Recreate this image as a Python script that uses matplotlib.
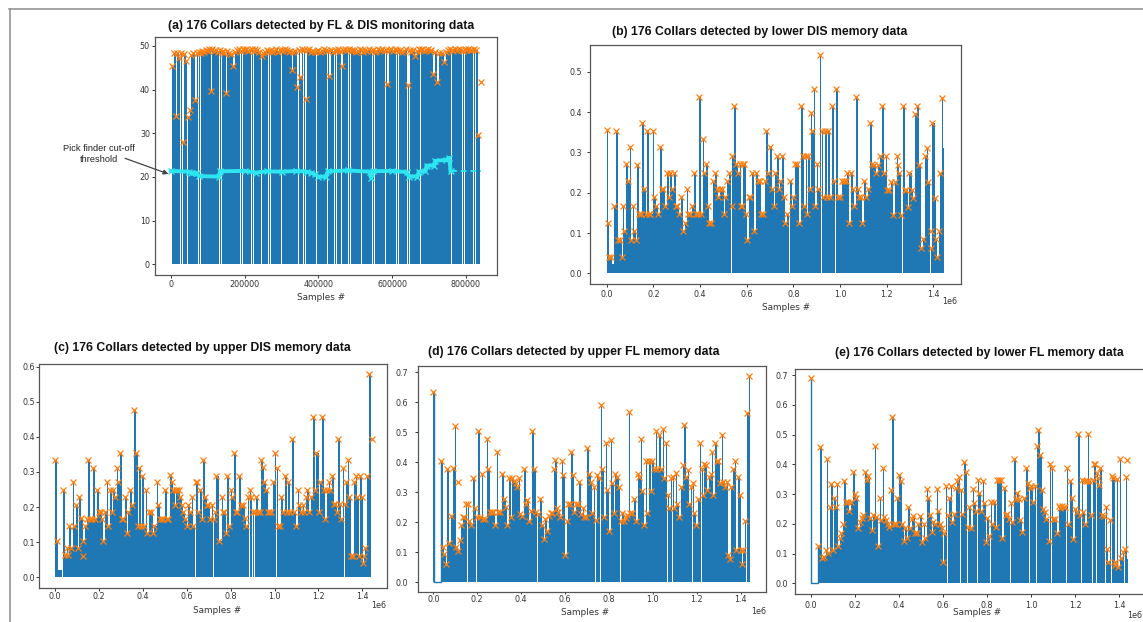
import numpy as np
import matplotlib
matplotlib.use("Agg")
import matplotlib.pyplot as plt
from matplotlib.lines import Line2D

W, H = 1143, 622
BLUE = "#1f77b4"
ORANGE = "#ff7f0e"
CYAN = "#2ee6f0"

# ---------------- data ----------------
# (a) FL & DIS monitoring data : peak positions (thousands of samples) and heights
a_peak_x = [3.6, 8, 13.5, 17, 22.6, 26, 31.6, 36, 40.6, 45.2, 51.5, 55, 60, 65, 70, 75, 80, 85, 90, 95,
            100, 104, 108.4, 112, 117, 122, 127, 132, 137, 142, 145, 149, 153, 158, 163, 169, 174, 179, 184, 189,
            194, 199, 204, 209, 214, 219, 224, 229, 234, 239, 245.7, 250, 255, 260, 265, 270, 275, 280, 285, 290,
            295, 300, 305, 310, 315, 320, 324, 328, 332, 337, 341.5, 346, 350.5, 355, 360, 365, 370, 375, 380, 385,
            390, 395, 400, 405, 410, 415, 420, 425, 429, 434, 439, 444, 449, 454, 458, 462.5, 467, 472, 477, 482,
            487, 492, 497, 502, 507, 512, 517, 522, 527, 532, 537, 542, 547, 552, 557, 562, 567, 572, 577, 582,
            587, 592, 597, 602, 607, 612, 617, 622, 627, 632, 637, 642, 647, 652, 657, 662, 667, 672, 677, 682,
            687, 692, 697, 702, 706, 711, 716, 722.7, 728, 735, 741.6, 746, 751, 756, 761, 766, 771, 776, 781, 786,
            791, 796, 801, 806, 811, 816, 821, 826, 833, 840]
a_peak_y = [45.5, 48.3, 34.0, 48.3, 47.2, 48.3, 28.1, 48.2, 46.6, 33.8, 35.3, 48.0, 48.3, 37.6, 48.4, 48.6, 48.5, 48.8, 48.7, 49.0,
            48.8, 49.3, 39.8, 49.2, 48.9, 49.1, 48.7, 49.0, 48.6, 48.9, 48.4, 39.3, 48.8, 48.5, 48.2, 45.4, 48.6, 49.1, 49.2, 48.9,
            49.3, 49.0, 49.2, 48.8, 49.1, 49.3, 48.9, 49.2, 49.0, 48.6, 47.6, 48.3, 48.7, 49.0, 48.8, 49.1, 48.6, 48.9, 49.2, 48.7,
            49.0, 48.8, 49.1, 49.3, 49.0, 48.7, 48.9, 44.4, 48.6, 48.9, 40.5, 49.1, 42.8, 49.2, 49.0, 37.9, 49.1, 49.3, 48.7, 48.9,
            48.6, 48.8, 49.0, 48.7, 48.9, 49.2, 49.0, 48.8, 43.1, 49.1, 48.7, 49.0, 48.8, 49.2, 48.9, 45.5, 49.1, 49.3, 49.0, 49.2,
            48.8, 49.1, 49.0, 48.6, 48.9, 49.2, 49.0, 48.7, 49.1, 48.9, 49.2, 48.8, 49.0, 48.6, 48.9, 49.2, 49.0, 49.3, 48.8, 49.1,
            41.3, 49.0, 49.2, 48.9, 49.3, 49.0, 48.8, 49.1, 48.6, 48.9, 49.2, 41.1, 49.0, 48.7, 49.1, 47.6, 48.9, 49.2, 49.0, 49.3,
            48.9, 49.1, 49.2, 48.8, 49.0, 43.6, 48.6, 41.8, 48.4, 48.3, 46.4, 48.7, 49.0, 49.2, 49.1, 48.9, 49.2, 49.0, 49.3, 49.1,
            48.9, 49.2, 49.0, 49.3, 49.1, 49.0, 49.2, 49.1, 29.6, 41.7]
a_end_x = [842]
a_end_y = [41.7]
# pick-finder cut-off threshold (thousands of samples)
a_thr_x = [0, 50, 55, 70, 75, 130, 133, 200, 230, 260, 300, 340, 370, 380, 390, 400, 420, 425, 480, 540,
           543, 548, 600, 640, 645, 668, 672, 690, 693, 713, 716, 745, 755, 758]
a_thr_y = [21.4, 21.2, 20.8, 20.9, 20.2, 20.1, 21.3, 21.4, 21.0, 21.3, 21.2, 21.4, 21.2, 21.0, 20.6, 20.1, 20.0, 21.3, 21.5, 21.2,
           19.8, 21.3, 21.4, 21.1, 20.1, 20.1, 21.2, 21.3, 22.6, 22.6, 23.7, 23.9, 24.4, 21.4]
a_thr_tail_x = [758, 840]
a_thr_tail_y = [21.4, 21.4]

# (b) lower DIS memory data (x in 1e6 samples)
b_peak_x = [0.000, 0.004, 0.011, 0.019, 0.033, 0.041, 0.050, 0.059, 0.064, 0.069, 0.076, 0.081, 0.090, 0.099, 0.104, 0.111,
            0.117, 0.124, 0.130, 0.139, 0.146, 0.153, 0.160, 0.167, 0.173, 0.181, 0.187, 0.197, 0.204, 0.213, 0.219, 0.229,
            0.236, 0.243, 0.250, 0.257, 0.266, 0.271, 0.280, 0.287, 0.296, 0.303, 0.311, 0.319, 0.326, 0.334, 0.343, 0.350,
            0.359, 0.364, 0.373, 0.381, 0.390, 0.397, 0.404, 0.411, 0.417, 0.424, 0.433, 0.440, 0.447, 0.457, 0.464, 0.471,
            0.479, 0.486, 0.494, 0.501, 0.509, 0.516, 0.524, 0.535, 0.539, 0.547, 0.556, 0.561, 0.570, 0.575, 0.579, 0.584,
            0.590, 0.596, 0.601, 0.610, 0.616, 0.624, 0.631, 0.639, 0.647, 0.656, 0.661, 0.670, 0.679, 0.684, 0.693, 0.701,
            0.710, 0.716, 0.721, 0.729, 0.737, 0.743, 0.753, 0.759, 0.766, 0.774, 0.784, 0.793, 0.800, 0.807, 0.816, 0.824,
            0.833, 0.840, 0.847, 0.854, 0.859, 0.864, 0.871, 0.876, 0.881, 0.890, 0.894, 0.900, 0.907, 0.913, 0.921, 0.929,
            0.936, 0.943, 0.950, 0.957, 0.964, 0.974, 0.981, 0.990, 0.999, 1.010, 1.017, 1.024, 1.030, 1.037, 1.047, 1.054,
            1.060, 1.067, 1.076, 1.083, 1.090, 1.096, 1.103, 1.110, 1.119, 1.128, 1.136, 1.145, 1.153, 1.162, 1.171, 1.180,
            1.189, 1.196, 1.201, 1.210, 1.219, 1.228, 1.236, 1.243, 1.249, 1.254, 1.263, 1.268, 1.277, 1.284, 1.291, 1.296,
            1.307, 1.314, 1.323, 1.330, 1.339, 1.349, 1.354, 1.363, 1.372, 1.379, 1.388, 1.392, 1.395, 1.406, 1.411, 1.416,
            1.425, 1.429, 1.437]
b_peak_y = [0.356, 0.126, 0.041, 0.041, 0.168, 0.354, 0.083, 0.083, 0.041, 0.168, 0.105, 0.272, 0.229, 0.313, 0.083, 0.168,
            0.105, 0.083, 0.269, 0.147, 0.147, 0.374, 0.209, 0.147, 0.354, 0.147, 0.147, 0.354, 0.189, 0.168, 0.147, 0.313,
            0.209, 0.209, 0.168, 0.250, 0.189, 0.250, 0.209, 0.250, 0.168, 0.168, 0.147, 0.189, 0.105, 0.126, 0.209, 0.147,
            0.147, 0.168, 0.250, 0.147, 0.147, 0.437, 0.147, 0.334, 0.250, 0.272, 0.168, 0.126, 0.126, 0.229, 0.250, 0.209,
            0.189, 0.209, 0.209, 0.147, 0.189, 0.229, 0.250, 0.168, 0.292, 0.416, 0.272, 0.250, 0.272, 0.168, 0.168, 0.272,
            0.272, 0.147, 0.083, 0.189, 0.189, 0.250, 0.105, 0.250, 0.229, 0.229, 0.147, 0.147, 0.229, 0.354, 0.250, 0.313,
            0.209, 0.168, 0.250, 0.292, 0.209, 0.229, 0.292, 0.189, 0.126, 0.147, 0.229, 0.168, 0.189, 0.272, 0.272, 0.126,
            0.416, 0.292, 0.168, 0.292, 0.147, 0.292, 0.209, 0.397, 0.354, 0.458, 0.168, 0.272, 0.209, 0.541, 0.354, 0.189,
            0.354, 0.189, 0.354, 0.189, 0.416, 0.229, 0.458, 0.189, 0.189, 0.229, 0.229, 0.229, 0.250, 0.126, 0.250, 0.209,
            0.168, 0.437, 0.209, 0.189, 0.189, 0.126, 0.229, 0.189, 0.209, 0.374, 0.272, 0.270, 0.248, 0.270, 0.290, 0.415,
            0.248, 0.290, 0.207, 0.207, 0.227, 0.145, 0.227, 0.290, 0.270, 0.248, 0.145, 0.415, 0.207, 0.207, 0.165, 0.248,
            0.207, 0.186, 0.395, 0.415, 0.270, 0.062, 0.084, 0.290, 0.312, 0.227, 0.106, 0.062, 0.373, 0.186, 0.084, 0.041,
            0.106, 0.248, 0.436]
b_extra_x = [0.023, 1.440, 1.445]
b_extra_y = [0.023, 0.310, 0.310]

# (c) upper DIS memory data
c_peak_x = [0.000, 0.008, 0.035, 0.046, 0.053, 0.061, 0.065, 0.071, 0.081, 0.088, 0.096, 0.103, 0.111, 0.117, 0.126, 0.129,
            0.137, 0.144, 0.152, 0.160, 0.167, 0.175, 0.182, 0.190, 0.199, 0.208, 0.216, 0.220, 0.228, 0.235, 0.243, 0.251,
            0.258, 0.266, 0.273, 0.281, 0.289, 0.296, 0.304, 0.311, 0.319, 0.327, 0.334, 0.342, 0.351, 0.362, 0.368, 0.377,
            0.384, 0.392, 0.398, 0.406, 0.413, 0.421, 0.430, 0.437, 0.445, 0.453, 0.463, 0.471, 0.479, 0.486, 0.494, 0.503,
            0.509, 0.516, 0.524, 0.532, 0.539, 0.547, 0.551, 0.557, 0.564, 0.570, 0.577, 0.585, 0.592, 0.600, 0.608, 0.615,
            0.623, 0.630, 0.640, 0.646, 0.653, 0.661, 0.668, 0.676, 0.684, 0.691, 0.699, 0.706, 0.714, 0.722, 0.728, 0.735,
            0.748, 0.759, 0.766, 0.772, 0.778, 0.785, 0.791, 0.800, 0.806, 0.815, 0.823, 0.831, 0.840, 0.849, 0.857, 0.864,
            0.871, 0.878, 0.886, 0.892, 0.900, 0.909, 0.917, 0.924, 0.932, 0.938, 0.946, 0.953, 0.961, 0.969, 0.977, 0.984,
            0.993, 1.001, 1.009, 1.016, 1.024, 1.030, 1.039, 1.047, 1.055, 1.062, 1.070, 1.081, 1.089, 1.098, 1.105, 1.113,
            1.121, 1.128, 1.135, 1.142, 1.150, 1.158, 1.165, 1.175, 1.184, 1.191, 1.201, 1.208, 1.216, 1.224, 1.231, 1.239,
            1.247, 1.254, 1.262, 1.270, 1.277, 1.283, 1.290, 1.297, 1.305, 1.311, 1.319, 1.327, 1.334, 1.341, 1.350, 1.356,
            1.362, 1.370, 1.377, 1.383, 1.389, 1.399, 1.405, 1.408, 1.411, 1.420, 1.431, 1.442]
c_peak_y = [0.334, 0.104, 0.249, 0.064, 0.083, 0.064, 0.146, 0.083, 0.271, 0.146, 0.206, 0.083, 0.230, 0.168, 0.062, 0.104,
            0.146, 0.166, 0.334, 0.166, 0.166, 0.310, 0.166, 0.249, 0.187, 0.187, 0.166, 0.104, 0.187, 0.271, 0.146, 0.249,
            0.187, 0.249, 0.230, 0.310, 0.271, 0.353, 0.166, 0.166, 0.230, 0.125, 0.187, 0.249, 0.206, 0.477, 0.353, 0.146,
            0.310, 0.146, 0.290, 0.146, 0.249, 0.125, 0.187, 0.187, 0.125, 0.146, 0.271, 0.206, 0.166, 0.166, 0.166, 0.249,
            0.166, 0.166, 0.292, 0.271, 0.249, 0.206, 0.249, 0.249, 0.249, 0.230, 0.206, 0.187, 0.166, 0.146, 0.206, 0.187,
            0.230, 0.146, 0.271, 0.271, 0.187, 0.249, 0.166, 0.334, 0.230, 0.206, 0.206, 0.166, 0.206, 0.166, 0.187, 0.290,
            0.104, 0.230, 0.187, 0.187, 0.125, 0.290, 0.146, 0.249, 0.230, 0.353, 0.187, 0.187, 0.290, 0.206, 0.206, 0.168,
            0.146, 0.230, 0.249, 0.230, 0.187, 0.187, 0.230, 0.187, 0.187, 0.334, 0.313, 0.271, 0.249, 0.187, 0.187, 0.187,
            0.271, 0.353, 0.310, 0.146, 0.146, 0.230, 0.187, 0.290, 0.187, 0.271, 0.187, 0.394, 0.187, 0.146, 0.249, 0.206,
            0.187, 0.206, 0.187, 0.230, 0.249, 0.187, 0.230, 0.456, 0.249, 0.353, 0.187, 0.271, 0.456, 0.249, 0.166, 0.249,
            0.271, 0.249, 0.290, 0.209, 0.209, 0.187, 0.394, 0.209, 0.166, 0.310, 0.209, 0.271, 0.334, 0.230, 0.062, 0.062,
            0.271, 0.290, 0.230, 0.062, 0.290, 0.230, 0.042, 0.062, 0.083, 0.290, 0.579, 0.394]
c_extra_x = [0.012, 1.445]
c_extra_y = [0.022, 0.394]

# (d) upper FL memory data
d_peak_x = [0.000, 0.035, 0.043, 0.050, 0.058, 0.064, 0.073, 0.081, 0.088, 0.099, 0.105, 0.111, 0.114, 0.122, 0.126, 0.134,
            0.141, 0.149, 0.156, 0.164, 0.172, 0.181, 0.190, 0.197, 0.205, 0.213, 0.220, 0.228, 0.235, 0.243, 0.251, 0.258,
            0.266, 0.274, 0.281, 0.289, 0.296, 0.304, 0.314, 0.322, 0.330, 0.337, 0.346, 0.354, 0.360, 0.368, 0.375, 0.381,
            0.389, 0.396, 0.404, 0.413, 0.421, 0.428, 0.436, 0.444, 0.451, 0.459, 0.468, 0.475, 0.486, 0.494, 0.503, 0.510,
            0.520, 0.527, 0.535, 0.542, 0.550, 0.554, 0.562, 0.570, 0.577, 0.585, 0.592, 0.600, 0.608, 0.615, 0.623, 0.629,
            0.635, 0.643, 0.650, 0.658, 0.665, 0.671, 0.681, 0.688, 0.694, 0.702, 0.709, 0.717, 0.724, 0.732, 0.739, 0.747,
            0.755, 0.762, 0.770, 0.777, 0.785, 0.792, 0.800, 0.808, 0.815, 0.823, 0.830, 0.838, 0.845, 0.853, 0.861, 0.868,
            0.876, 0.883, 0.892, 0.898, 0.906, 0.913, 0.922, 0.931, 0.938, 0.947, 0.953, 0.960, 0.968, 0.975, 0.983, 0.990,
            0.998, 1.006, 1.013, 1.019, 1.028, 1.036, 1.046, 1.052, 1.060, 1.067, 1.075, 1.083, 1.090, 1.098, 1.104, 1.111,
            1.120, 1.128, 1.136, 1.142, 1.151, 1.160, 1.166, 1.173, 1.181, 1.188, 1.197, 1.205, 1.214, 1.222, 1.228, 1.234,
            1.241, 1.249, 1.256, 1.264, 1.270, 1.276, 1.284, 1.291, 1.299, 1.306, 1.314, 1.321, 1.329, 1.337, 1.344, 1.352,
            1.358, 1.366, 1.373, 1.381, 1.389, 1.397, 1.402, 1.408, 1.412, 1.421, 1.427, 1.438]
d_peak_y = [0.633, 0.402, 0.117, 0.094, 0.059, 0.376, 0.130, 0.220, 0.380, 0.519, 0.117, 0.333, 0.103, 0.139, 0.189, 0.217,
            0.217, 0.261, 0.261, 0.202, 0.189, 0.347, 0.248, 0.217, 0.503, 0.217, 0.359, 0.211, 0.211, 0.476, 0.376, 0.233,
            0.233, 0.233, 0.189, 0.433, 0.233, 0.233, 0.359, 0.278, 0.250, 0.189, 0.347, 0.217, 0.347, 0.336, 0.331, 0.317,
            0.347, 0.228, 0.220, 0.376, 0.259, 0.272, 0.202, 0.237, 0.503, 0.376, 0.233, 0.228, 0.278, 0.189, 0.142, 0.209,
            0.169, 0.219, 0.231, 0.231, 0.376, 0.408, 0.248, 0.233, 0.217, 0.403, 0.358, 0.091, 0.203, 0.259, 0.259, 0.433,
            0.358, 0.233, 0.261, 0.261, 0.333, 0.228, 0.248, 0.217, 0.217, 0.447, 0.361, 0.333, 0.231, 0.317, 0.206, 0.356,
            0.347, 0.591, 0.376, 0.217, 0.463, 0.306, 0.169, 0.472, 0.331, 0.231, 0.361, 0.350, 0.317, 0.203, 0.231, 0.203,
            0.214, 0.222, 0.567, 0.231, 0.231, 0.276, 0.202, 0.361, 0.350, 0.476, 0.302, 0.189, 0.403, 0.231, 0.403, 0.303,
            0.403, 0.376, 0.503, 0.376, 0.491, 0.376, 0.509, 0.347, 0.463, 0.289, 0.247, 0.347, 0.350, 0.247, 0.363, 0.261,
            0.217, 0.317, 0.389, 0.522, 0.350, 0.372, 0.259, 0.317, 0.331, 0.231, 0.189, 0.276, 0.463, 0.376, 0.291, 0.392,
            0.389, 0.306, 0.350, 0.361, 0.433, 0.291, 0.463, 0.403, 0.403, 0.331, 0.491, 0.333, 0.317, 0.333, 0.089, 0.078,
            0.317, 0.376, 0.403, 0.106, 0.350, 0.289, 0.106, 0.061, 0.106, 0.202, 0.564, 0.687]
d_extra_x = [0.003, 1.443]
d_extra_y = [0.0, 0.687]

# (e) lower FL memory data
e_peak_x = [0.000, 0.035, 0.044, 0.053, 0.060, 0.068, 0.074, 0.080, 0.086, 0.094, 0.100, 0.106, 0.113, 0.121, 0.125, 0.133,
            0.139, 0.145, 0.153, 0.160, 0.168, 0.175, 0.183, 0.192, 0.200, 0.207, 0.216, 0.224, 0.231, 0.239, 0.246, 0.254,
            0.262, 0.269, 0.277, 0.284, 0.292, 0.298, 0.305, 0.313, 0.319, 0.327, 0.334, 0.342, 0.349, 0.357, 0.364, 0.370,
            0.378, 0.386, 0.393, 0.401, 0.408, 0.416, 0.422, 0.429, 0.437, 0.443, 0.451, 0.458, 0.466, 0.473, 0.481, 0.488,
            0.496, 0.505, 0.513, 0.520, 0.528, 0.534, 0.541, 0.549, 0.556, 0.564, 0.572, 0.579, 0.587, 0.594, 0.600, 0.606,
            0.614, 0.621, 0.629, 0.635, 0.643, 0.650, 0.658, 0.665, 0.673, 0.680, 0.688, 0.695, 0.703, 0.712, 0.718, 0.727,
            0.735, 0.742, 0.750, 0.757, 0.765, 0.773, 0.780, 0.788, 0.794, 0.801, 0.809, 0.816, 0.824, 0.832, 0.839, 0.846,
            0.854, 0.862, 0.869, 0.877, 0.885, 0.892, 0.900, 0.907, 0.915, 0.922, 0.930, 0.937, 0.945, 0.952, 0.960, 0.969,
            0.978, 0.987, 0.993, 1.001, 1.008, 1.016, 1.025, 1.033, 1.040, 1.048, 1.055, 1.063, 1.070, 1.080, 1.087, 1.093,
            1.101, 1.108, 1.117, 1.125, 1.132, 1.140, 1.148, 1.155, 1.161, 1.169, 1.176, 1.184, 1.191, 1.199, 1.207, 1.214,
            1.222, 1.229, 1.237, 1.243, 1.247, 1.253, 1.259, 1.265, 1.272, 1.279, 1.285, 1.291, 1.297, 1.303, 1.309, 1.315,
            1.323, 1.329, 1.338, 1.344, 1.351, 1.359, 1.365, 1.373, 1.379, 1.383, 1.388, 1.396, 1.402, 1.409, 1.417, 1.424,
            1.429, 1.435]
e_peak_y = [0.689, 0.127, 0.459, 0.086, 0.090, 0.112, 0.417, 0.101, 0.258, 0.333, 0.112, 0.288, 0.258, 0.333, 0.127, 0.153,
            0.168, 0.198, 0.344, 0.272, 0.272, 0.243, 0.272, 0.373, 0.300, 0.288, 0.187, 0.207, 0.218, 0.230, 0.373, 0.347,
            0.361, 0.218, 0.179, 0.230, 0.461, 0.224, 0.127, 0.288, 0.213, 0.386, 0.224, 0.213, 0.198, 0.190, 0.314, 0.560,
            0.198, 0.198, 0.286, 0.364, 0.344, 0.198, 0.142, 0.187, 0.153, 0.258, 0.187, 0.216, 0.227, 0.168, 0.168, 0.198,
            0.227, 0.140, 0.198, 0.153, 0.317, 0.288, 0.230, 0.171, 0.207, 0.198, 0.317, 0.243, 0.198, 0.187, 0.071, 0.168,
            0.328, 0.230, 0.286, 0.328, 0.207, 0.232, 0.319, 0.344, 0.358, 0.314, 0.232, 0.409, 0.375, 0.188, 0.258, 0.187,
            0.317, 0.269, 0.244, 0.347, 0.302, 0.243, 0.344, 0.269, 0.140, 0.221, 0.160, 0.272, 0.198, 0.272, 0.190, 0.347,
            0.347, 0.347, 0.153, 0.319, 0.230, 0.232, 0.216, 0.269, 0.205, 0.417, 0.283, 0.302, 0.283, 0.213, 0.174, 0.288,
            0.386, 0.336, 0.319, 0.328, 0.272, 0.328, 0.461, 0.515, 0.431, 0.314, 0.250, 0.241, 0.216, 0.142, 0.400, 0.386,
            0.216, 0.216, 0.168, 0.261, 0.252, 0.261, 0.258, 0.258, 0.386, 0.198, 0.344, 0.286, 0.149, 0.250, 0.241, 0.502,
            0.230, 0.347, 0.241, 0.344, 0.198, 0.344, 0.502, 0.344, 0.230, 0.347, 0.400, 0.400, 0.370, 0.353, 0.330, 0.386,
            0.230, 0.227, 0.258, 0.114, 0.073, 0.213, 0.361, 0.353, 0.073, 0.062, 0.351, 0.056, 0.417, 0.084, 0.106, 0.114,
            0.358, 0.414]
e_extra_x = [0.003, 1.437, 1.441]
e_extra_y = [0.0, 0.080, 0.080]

titles = ["(a) 176 Collars detected by FL & DIS monitoring data",
          "(b) 176 Collars detected by lower DIS memory data",
          "(c) 176 Collars detected by upper DIS memory data",
          "(d) 176 Collars detected by upper FL memory data",
          "(e) 176 Collars detected by lower FL memory data"]
xlabel_text = "Samples #"
offset_text = "1e6"
annot_text = "Pick finder cut-off\nthreshold"

# ---------------- layout helpers ----------------
fig = plt.figure(figsize=(W / 100, H / 100), dpi=100)


def rect(l, t, r, b):
    return [l / W, 1 - b / H, (r - l) / W, (b - t) / H]


def fx(px):
    return px / W


def fy(py):
    return 1 - py / H


def draw_signal(ax, px, py, ex, ey, scale, fill_frac=0.9, outline_first=False):
    x = np.concatenate([np.asarray(px, float), np.asarray(ex, float)]) * scale
    y = np.concatenate([np.asarray(py, float), np.asarray(ey, float)])
    o = np.argsort(x, kind="stable")
    x, y = x[o], y[o]
    widths = np.diff(x)
    ax.bar(x[:-1], y[:-1], width=widths * fill_frac, align="edge", color=BLUE, lw=0)
    if outline_first:
        ax.plot(x[:3], y[:3], drawstyle="steps-post", color=BLUE, lw=1.0)
    ax.plot(np.asarray(px) * scale, py, "x", color=ORANGE, ms=4.2, mew=0.9)


def style(ax, xpad, ypad, xlen=2.2):
    for s in ax.spines.values():
        s.set_color("#555555")
        s.set_linewidth(0.9)
    ax.tick_params(axis="x", length=xlen, width=0.7, pad=xpad, labelsize=5.8,
                   colors="#333333")
    ax.tick_params(axis="y", length=2.2, width=0.7, pad=ypad, labelsize=5.8,
                   colors="#333333")


# ---------------- (a) ----------------
axa = fig.add_axes(rect(155.5, 37.0, 497.0, 275.1))
draw_signal(axa, a_peak_x, a_peak_y, a_end_x, a_end_y, 1e3, fill_frac=0.86)
axa.plot(np.asarray(a_thr_x) * 1e3, a_thr_y, color=CYAN, lw=2.8, marker="x", ms=4, mew=1.0)
axa.plot(np.asarray(a_thr_tail_x) * 1e3, a_thr_tail_y, color=CYAN, lw=1.4, ls=(0, (3, 2)))
axa.set_xlim(-42034, 884068)
axa.set_ylim(-2.47, 52.06)
axa.set_xticks([0, 200000, 400000, 600000, 800000])
axa.set_yticks([0, 10, 20, 30, 40, 50])
style(axa, 1.1, 1.8)
axa.annotate("", xy=(-7000, 20.7), xycoords="data",
             xytext=(fx(125), fy(158.3)), textcoords="figure fraction",
             arrowprops=dict(arrowstyle="-|>", color="#444444", lw=0.9,
                             mutation_scale=7, shrinkA=0, shrinkB=0))
fig.text(fx(99.3), fy(154.0), annot_text, ha="center", va="center",
         fontsize=6.7, family="Liberation Sans", color="#222222", linespacing=1.25)

# ---------------- (b) ----------------
axb = fig.add_axes(rect(590.0, 44.8, 961.0, 284.2))
draw_signal(axb, b_peak_x, b_peak_y, b_extra_x, b_extra_y, 1e6, fill_frac=0.95)
axb.set_xlim(-0.0716e6, 1.5186e6)
axb.set_ylim(-0.027, 0.567)
style(axb, 1.7, 3.4)

# ---------------- (c) ----------------
axc = fig.add_axes(rect(39.3, 363.5, 386.5, 587.5))
draw_signal(axc, c_peak_x, c_peak_y, c_extra_x, c_extra_y, 1e6, fill_frac=0.95)
axc.set_xlim(-0.0715e6, 1.510e6)
axc.set_ylim(-0.029, 0.609)
style(axc, 1.1, 1.0)

# ---------------- (d) ----------------
axd = fig.add_axes(rect(417.5, 366.3, 766.3, 592.3))
draw_signal(axd, d_peak_x, d_peak_y, d_extra_x, d_extra_y, 1e6, fill_frac=0.95, outline_first=True)
axd.set_xlim(-0.072e6, 1.517e6)
axd.set_ylim(-0.034, 0.719)
style(axd, 0.4, 4.6, xlen=1.5)

# ---------------- (e) ----------------
axe = fig.add_axes(rect(795.0, 369.4, 1145.0, 594.0))
draw_signal(axe, e_peak_x, e_peak_y, e_extra_x, e_extra_y, 1e6, fill_frac=0.95, outline_first=True)
axe.set_xlim(-0.0712e6, 1.517e6)
axe.set_ylim(-0.036, 0.719)
style(axe, 2.9, 2.9)

for ax in (axb, axc, axd, axe):
    ax.set_xticks([0, 0.2e6, 0.4e6, 0.6e6, 0.8e6, 1.0e6, 1.2e6, 1.4e6])
    ax.set_xticklabels(["0.0", "0.2", "0.4", "0.6", "0.8", "1.0", "1.2", "1.4"])
    yt = [t for t in [0, 0.1, 0.2, 0.3, 0.4, 0.5, 0.6, 0.7] if t <= ax.get_ylim()[1]]
    ax.set_yticks(yt)
    ax.set_yticklabels([f"{t:.1f}" for t in yt])

# titles
title_pos = [(320.8, 25.7), (760.0, 32.0), (202.0, 348.3), (574.0, 351.7), (979.7, 352.7)]
for t, (x, y) in zip(titles, title_pos):
    fig.text(fx(x), fy(y), t, ha="center", va="center", fontsize=8.8,
             fontweight="bold", family="Liberation Sans", color="#111111")

# x labels
xl_pos = [(321.0, 297.7), (786.0, 308.0), (216.7, 610.7), (585.5, 612.7), (977.5, 612.7)]
for (x, y) in xl_pos:
    fig.text(fx(x), fy(y), xlabel_text, ha="center", va="center", fontsize=6.4,
             color="#333333")

# offset texts
off_pos = [(950.0, 302.0), (379.0, 606.0), (758.3, 612.0), (1135.0, 615.0)]
for (x, y) in off_pos:
    fig.text(fx(x), fy(y), offset_text, ha="center", va="center", fontsize=5.8,
             color="#333333")

# composite frame lines
fig.add_artist(Line2D([fx(9), fx(1143)], [fy(8.5), fy(8.5)], color="#8c8c8c", lw=1.1,
                      transform=fig.transFigure))
fig.add_artist(Line2D([fx(9.5), fx(9.5)], [fy(8.5), fy(622)], color="#8c8c8c", lw=1.1,
                      transform=fig.transFigure))

fig.savefig("out.png", dpi=100)
